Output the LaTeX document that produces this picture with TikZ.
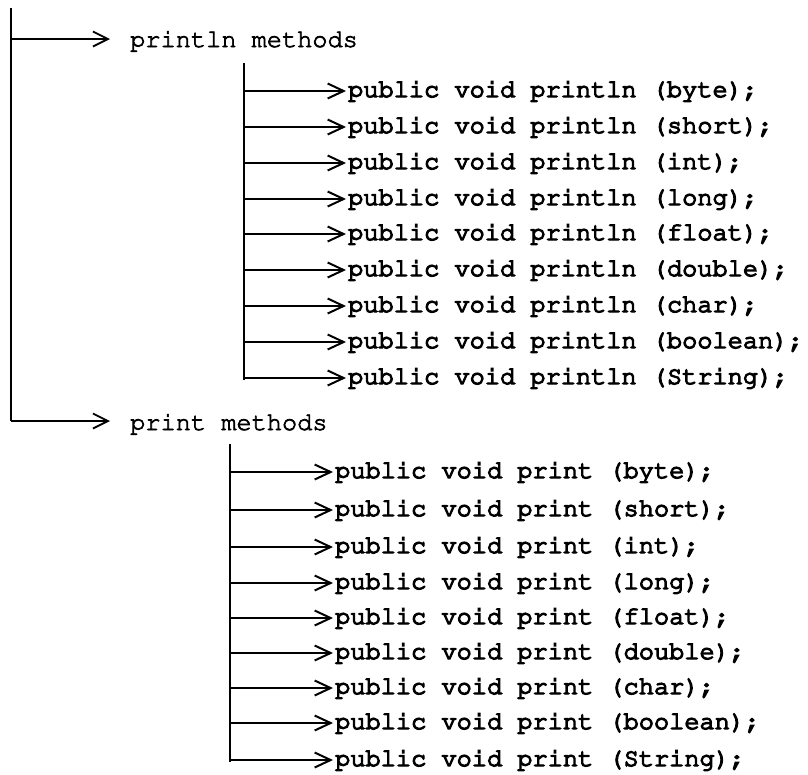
\documentclass[tikz,border=0pt]{standalone}
\usetikzlibrary{arrows.meta}
% Courier-style typewriter face (URW Nimbus Mono, family pcr)
\newcommand{\cour}{\fontencoding{T1}\fontfamily{pcr}\fontsize{25.3pt}{26pt}\selectfont}
% glyphs filled and outlined, for a slightly heavier stroke
\newcommand{\heavytext}[2]{\special{pdf:literal direct 2 Tr #1 w}#2\special{pdf:literal direct 0 Tr}}
\tikzset{
  trunk/.style={line width=1.8pt},
  headarrow/.style={line width=1.5pt, -{Straight Barb[length=15pt,width=15pt,line width=1.8pt]}},
  itemarrow/.style={line width=1.7pt, -{Straight Barb[length=16pt,width=15pt,line width=2pt]}},
  headtext/.style={inner sep=0pt, anchor=base west, font=\cour},
  itemtext/.style={inner sep=0pt, anchor=base west, font=\cour}
}
\begin{document}
\begin{tikzpicture}[x=1pt,y=-1pt]
\useasboundingbox (0,0) rectangle (808,774);

% top-level branches
\coordinate (rootTop) at (11,8);
\coordinate (rootA) at (11,39);
\coordinate (rootB) at (11,421);
\node[headtext] (hA) at (130,47) {\heavytext{0.7}{println methods}};
\node[headtext] (hB) at (130,430) {\heavytext{0.7}{print methods}};
\draw[trunk] (rootTop) -- (rootB);
\draw[headarrow] (rootA) -- ([xshift=-20pt]rootA -| hA.west);
\draw[headarrow] (rootB) -- ([xshift=-20pt]rootB -| hB.west);

% println overloads
\coordinate (lnTop) at (244,63);
\foreach \t/\y [count=\i] in {byte/91,short/127,int/163,long/199,float/234,double/270,char/306,boolean/342,String/378}{
  \coordinate (ln\i) at (244,\y);
  \node[itemtext] (lnm\i) at (348,\y+6) {\heavytext{1.3}{public void println (\t);}};
  \draw[itemarrow] (ln\i) -- ([xshift=-2pt]ln\i -| lnm\i.west);
}
\draw[trunk] (lnTop) -- ([yshift=-2pt]ln9);

% print overloads
\coordinate (prTop) at (230,444);
\foreach \t/\y [count=\i] in {byte/472,short/510,int/547,long/583,float/618,double/653,char/688,boolean/723,String/760}{
  \coordinate (pr\i) at (230,\y);
  \node[itemtext] (prm\i) at (335,\y+6) {\heavytext{1.3}{public void print (\t);}};
  \draw[itemarrow] (pr\i) -- ([xshift=-2pt]pr\i -| prm\i.west);
}
\draw[trunk] (prTop) -- ([yshift=-2pt]pr9);
\end{tikzpicture}
\end{document}
